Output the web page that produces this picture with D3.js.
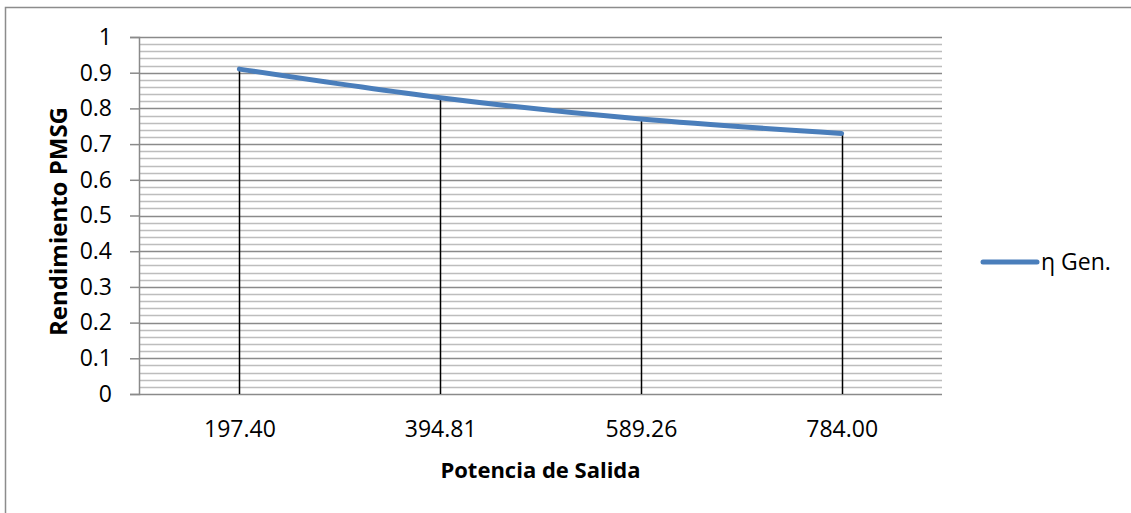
<!DOCTYPE html>
<html>
<head>
<meta charset="utf-8">
<script src="https://cdn.jsdelivr.net/npm/d3@7"></script>
<style>
  body { margin: 0; background: #fff; }
  text { font-family: "Open Sans", "Noto Sans", sans-serif; fill: #000; }
</style>
</head>
<body>
<div id="chart"></div>
<script>
let svgWidth = 1131;
let svgHeight = 513;

// chart data
let potencia = ["197.40", "394.81", "589.26", "784.00"];
let rendimiento = [0.91, 0.83, 0.77, 0.73];
let seriesName = "η Gen.";
let yTicks = [0, 0.1, 0.2, 0.3, 0.4, 0.5, 0.6, 0.7, 0.8, 0.9, 1];

let margin = { top: 37, right: 189, bottom: 119, left: 139 };
let width = svgWidth - margin.left - margin.right;
let height = svgHeight - margin.top - margin.bottom;

let svg = d3.select("#chart")
  .append("svg")
  .attr("width", svgWidth)
  .attr("height", svgHeight);

// outer frame (runs off the right/bottom edge)
svg.append("rect")
  .attr("x", 5.5)
  .attr("y", 7.5)
  .attr("width", 1300)
  .attr("height", 700)
  .attr("fill", "none")
  .attr("stroke", "#8c8c8c")
  .attr("stroke-width", 1.5);

let chartGroup = svg.append("g")
  .attr("transform", `translate(${margin.left}, ${margin.top})`);

let xScale = d3.scalePoint()
  .domain(potencia)
  .range([0, width])
  .padding(0.5);

let yScale = d3.scaleLinear()
  .domain([0, 1])
  .range([height, 0]);

// minor gridlines every 0.02
let minor = d3.range(0, 51).map(i => i / 50).filter(v => Math.round(v * 50) % 5 !== 0);
chartGroup.selectAll(".minor")
  .data(minor)
  .enter()
  .append("line")
  .attr("x1", 0)
  .attr("x2", width)
  .attr("y1", d => Math.round(yScale(d)) + 0.5)
  .attr("y2", d => Math.round(yScale(d)) + 0.5)
  .attr("stroke", "#bdbdbd")
  .attr("stroke-width", 1.5);

// major gridlines
chartGroup.selectAll(".major")
  .data(yTicks)
  .enter()
  .append("line")
  .attr("x1", 0)
  .attr("x2", width)
  .attr("y1", d => Math.round(yScale(d)) + 0.5)
  .attr("y2", d => Math.round(yScale(d)) + 0.5)
  .attr("stroke", "#8a8a8a")
  .attr("stroke-width", 1.5);

// y axis
let yAxis = d3.axisLeft(yScale)
  .tickValues(yTicks)
  .tickFormat(d => d3.format("")(+d.toFixed(1)))
  .tickSize(9)
  .tickPadding(18);

let yAxisG = chartGroup.append("g").call(yAxis);
yAxisG.select(".domain").attr("stroke", "#8a8a8a").attr("stroke-width", 1.5);
yAxisG.selectAll(".tick line").attr("stroke", "#8a8a8a").attr("stroke-width", 1.5);
yAxisG.selectAll(".tick text")
  .style("font-size", "23px")
  .style("font-family", "'Open Sans', sans-serif");

// x axis
let xAxis = d3.axisBottom(xScale).tickSize(0).tickPadding(27);
let xAxisG = chartGroup.append("g")
  .attr("transform", `translate(0, ${height})`)
  .call(xAxis);
xAxisG.select(".domain").remove();
xAxisG.selectAll(".tick text")
  .style("font-size", "23px")
  .style("font-family", "'Open Sans', sans-serif");

// drop lines
chartGroup.selectAll(".drop")
  .data(potencia)
  .enter()
  .append("line")
  .attr("x1", d => Math.round(xScale(d)) + 0.5)
  .attr("x2", d => Math.round(xScale(d)) + 0.5)
  .attr("y1", (d, i) => yScale(rendimiento[i]))
  .attr("y2", height)
  .attr("stroke", "#000")
  .attr("stroke-width", 1.5);

// series line
let line = d3.line()
  .x((d, i) => xScale(potencia[i]))
  .y(d => yScale(d))
  .curve(d3.curveCatmullRom.alpha(0.5));

chartGroup.append("path")
  .datum(rendimiento)
  .attr("d", line)
  .attr("fill", "none")
  .attr("stroke", "#4a7ebb")
  .attr("stroke-width", 5)
  .attr("stroke-linecap", "round");

// axis titles
chartGroup.append("text")
  .attr("transform", `translate(${-72}, ${height / 2 + 6}) rotate(-90)`)
  .attr("text-anchor", "middle")
  .style("font-size", "24px")
  .style("font-weight", "bold")
  .text("Rendimiento PMSG");

chartGroup.append("text")
  .attr("x", width / 2)
  .attr("y", height + 84)
  .attr("text-anchor", "middle")
  .style("font-size", "22px")
  .style("font-weight", "bold")
  .text("Potencia de Salida");

// legend
let legend = svg.append("g").attr("transform", "translate(983, 262)");
legend.append("line")
  .attr("x1", 0)
  .attr("x2", 54)
  .attr("stroke", "#4a7ebb")
  .attr("stroke-width", 5)
  .attr("stroke-linecap", "round");
legend.append("text")
  .attr("x", 58)
  .attr("y", 8)
  .style("font-size", "23px")
  .text(seriesName);
</script>
</body>
</html>
